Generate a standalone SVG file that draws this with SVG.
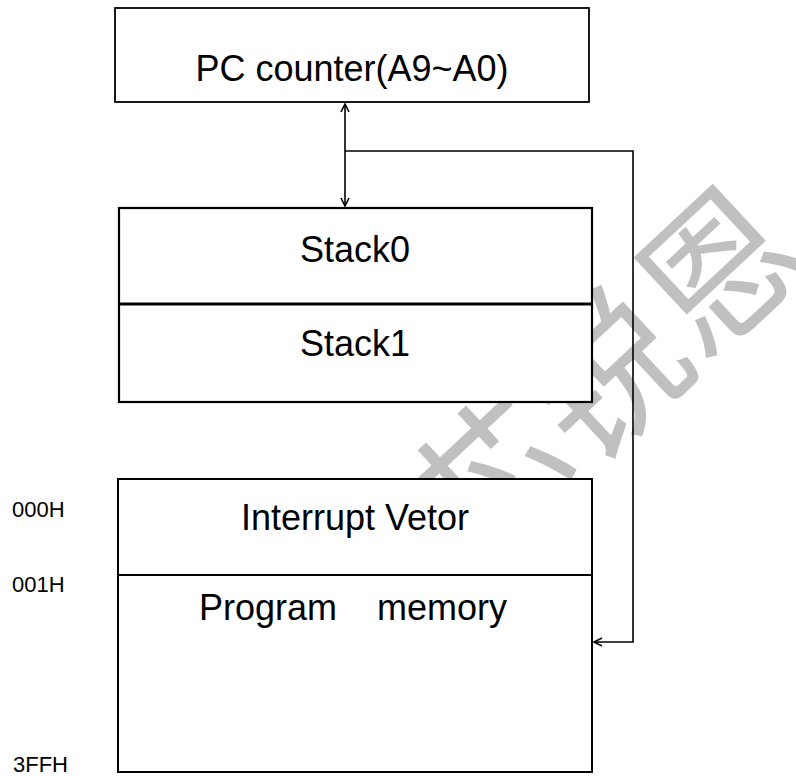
<svg xmlns="http://www.w3.org/2000/svg" width="796" height="776" viewBox="0 0 796 776">
  <style>
    .box { fill: #ffffff; stroke: #000000; }
    .lbl { font-family: "Liberation Sans", Arial, sans-serif; font-size: 36px; fill: #000000; text-anchor: middle; }
    .addr { font-family: "Liberation Sans", Arial, sans-serif; font-size: 22px; fill: #000000; }
    .conn { fill: none; stroke: #000000; stroke-width: 1.6; }
    .wm { font-family: "Noto Sans CJK SC", sans-serif; font-size: 155px; fill: #c0c0c0; }
  </style>
  <defs>
    <marker id="arr" markerUnits="userSpaceOnUse" markerWidth="12" markerHeight="12" refX="9" refY="5" orient="auto-start-reverse" viewBox="0 0 12 10">
      <path d="M1,1 L9,5 L1,9" fill="none" stroke="#000000" stroke-width="1.6"/>
    </marker>
  </defs>
  <rect width="796" height="776" fill="#ffffff"/>

  <g id="watermark">
    <text class="wm" x="598" y="368" text-anchor="middle" dominant-baseline="central" transform="rotate(-43 598 368)">芯锐恩</text>
  </g>

  <g id="pc-counter">
    <rect class="box" x="115" y="8" width="474" height="94" stroke-width="1.8"/>
    <text class="lbl" x="352" y="81">PC counter(A9~A0)</text>
  </g>

  <g id="stack">
    <rect class="box" x="119" y="208" width="473" height="194" stroke-width="2.2"/>
    <line x1="119" y1="304" x2="592" y2="304" stroke="#000000" stroke-width="2.8"/>
    <text class="lbl" x="355" y="262">Stack0</text>
    <text class="lbl" x="355" y="356">Stack1</text>
  </g>

  <g id="memory">
    <rect class="box" x="118" y="479" width="474" height="293" stroke-width="2"/>
    <line x1="118" y1="575" x2="592" y2="575" stroke="#000000" stroke-width="2"/>
    <text class="lbl" x="355" y="530">Interrupt Vetor</text>
    <text class="lbl" x="353" y="620" xml:space="preserve">Program    memory</text>
  </g>

  <g id="addresses">
    <text class="addr" x="12" y="517">000H</text>
    <text class="addr" x="12" y="592">001H</text>
    <text class="addr" x="13" y="772">3FFH</text>
  </g>

  <g id="connectors">
    <line class="conn" x1="345" y1="104" x2="345" y2="206" marker-start="url(#arr)" marker-end="url(#arr)"/>
    <path class="conn" d="M345,151 H633 V642 H594" marker-end="url(#arr)"/>
  </g>
</svg>
